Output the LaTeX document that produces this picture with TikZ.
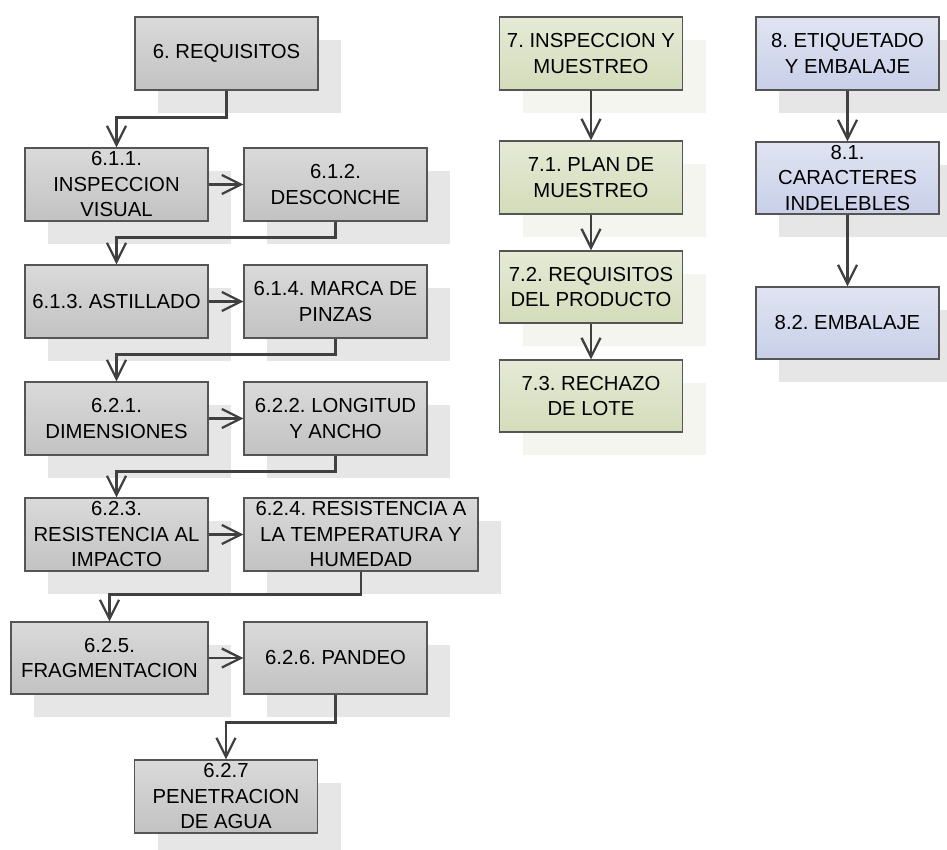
\documentclass[tikz,border=0pt]{standalone}
\usepackage{fontspec}
\setmainfont{Liberation Sans}
\usetikzlibrary{arrows.meta,shadows}
\frenchspacing

\definecolor{boxline}{HTML}{555555}
\definecolor{wire}{HTML}{404040}
\definecolor{grayTop}{HTML}{DADADA}
\definecolor{grayBot}{HTML}{C2C2C2}
\definecolor{greenTop}{HTML}{E6EAD6}
\definecolor{greenBot}{HTML}{D3DCBA}
\definecolor{blueTop}{HTML}{E0E4F2}
\definecolor{blueBot}{HTML}{C8CFE8}
\definecolor{shadeGray}{HTML}{E6E6E6}
\definecolor{shadeGreen}{HTML}{F4F5EF}

\tikzset{
  card/.style={draw=boxline, line width=1.2pt, inner sep=0pt, align=center,
    minimum width=183pt, minimum height=73pt,
    font=\fontsize{20.3}{25.5}\selectfont},
  graycard/.style={card, top color=grayTop, bottom color=grayBot,
    general shadow={fill=shadeGray, draw=none, shadow xshift=23pt, shadow yshift=-23pt}},
  greencard/.style={card, top color=greenTop, bottom color=greenBot,
    general shadow={fill=shadeGreen, draw=none, shadow xshift=23pt, shadow yshift=-23pt}},
  bluecard/.style={card, top color=blueTop, bottom color=blueBot,
    general shadow={fill=shadeGray, draw=none, shadow xshift=23pt, shadow yshift=-23pt}},
  link/.style={draw=wire, line width=2.3pt,
    -{Straight Barb[length=19pt,width=19pt,line width=2.3pt]}}
}

\begin{document}
\begin{tikzpicture}[x=1pt,y=-1pt]
\useasboundingbox (0,0) rectangle (947,850);

% chapter 6: requirements
\node[graycard] (b6)   at (226.5,53.5)  {6. REQUISITOS};
\node[graycard] (b611) at (116.5,184.5) {6.1.1.\\INSPECCION\\VISUAL};
\node[graycard] (b612) at (335.5,184.5) {6.1.2.\\DESCONCHE};
\node[graycard] (b613) at (116.5,301.5) {6.1.3. ASTILLADO};
\node[graycard] (b614) at (335.5,301.5) {6.1.4. MARCA DE\\PINZAS};
\node[graycard] (b621) at (116.5,418.5) {6.2.1.\\DIMENSIONES};
\node[graycard] (b622) at (335.5,418.5) {6.2.2. LONGITUD\\Y ANCHO};
\node[graycard] (b623) at (116.5,534.5) {6.2.3.\\RESISTENCIA AL\\IMPACTO};
\node[graycard, minimum width=234pt] (b624) at (361,534.5) {6.2.4. RESISTENCIA A\\LA TEMPERATURA Y\\HUMEDAD};
\node[graycard, minimum width=197pt, minimum height=72pt] (b625) at (109.5,658) {6.2.5.\\FRAGMENTACION};
\node[graycard, minimum height=72pt] (b626) at (335.5,658) {6.2.6. PANDEO};
\node[graycard] (b627) at (226,796.5) {6.2.7\\PENETRACION\\DE AGUA};

% chapter 7: inspection and sampling
\node[greencard] (b7)  at (591,53.5)  {7. INSPECCION Y\\MUESTREO};
\node[greencard] (b71) at (591,177.5) {7.1. PLAN DE\\MUESTREO};
\node[greencard, minimum height=72pt] (b72) at (591,287) {7.2. REQUISITOS\\DEL PRODUCTO};
\node[greencard, minimum height=72pt] (b73) at (591,396) {7.3. RECHAZO\\DE LOTE};

% chapter 8: labelling and packing
\node[bluecard] (b8)  at (847.5,53.5) {8. ETIQUETADO\\Y EMBALAJE};
\node[bluecard, minimum height=72pt] (b81) at (847.5,178) {8.1.\\CARACTERES\\INDELEBLES};
\node[bluecard, minimum height=72pt] (b82) at (847.5,323) {8.2. EMBALAJE};

% connectors of chapter 6
\draw[link] (b6.south)   -- ++(0,27) -| (b611.north);
\draw[link] (b611.east)  -- (b612.west);
\draw[link] (b612.south) -- ++(0,16) -| (b613.north);
\draw[link] (b613.east)  -- (b614.west);
\draw[link] (b614.south) -- ++(0,16) -| (b621.north);
\draw[link] (b621.east)  -- (b622.west);
\draw[link] (b622.south) -- ++(0,16) -| (b623.north);
\draw[link] (b623.east)  -- (b624.west);
\draw[link] (b624.south) -- ++(0,23) -| (b625.north);
\draw[link] (b625.east)  -- (b626.west);
\draw[link] (b626.south) -- ++(0,28) -| (b627.north);

% connectors of chapters 7 and 8
\draw[link] (b7.south)  -- (b71.north);
\draw[link] (b71.south) -- (b72.north);
\draw[link] (b72.south) -- (b73.north);
\draw[link] (b8.south)  -- (b81.north);
\draw[link] (b81.south) -- (b82.north);
\end{tikzpicture}
\end{document}
